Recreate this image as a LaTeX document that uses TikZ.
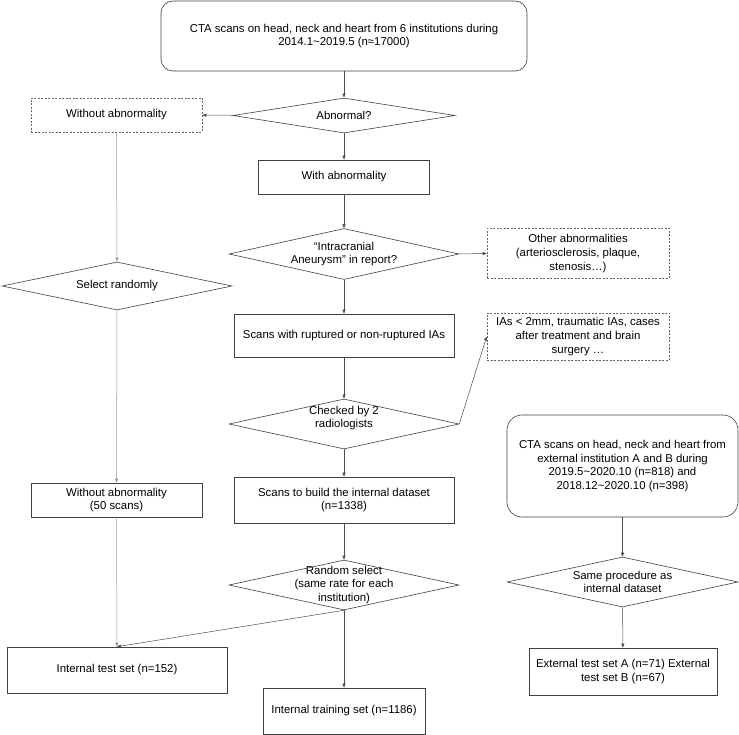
\documentclass[tikz,border=0pt]{standalone}
\usepackage{fontspec}
\setmainfont{Liberation Sans}
\usetikzlibrary{arrows.meta}
\usetikzlibrary{shapes.geometric}

\begin{document}
\begin{tikzpicture}[x=1pt,y=-1pt,
  font=\fontsize{11.4}{13.8}\selectfont,
  proc/.style={rectangle,draw=black!75,line width=0.6pt,align=center,inner sep=2pt},
  dproc/.style={proc,draw=black!60,dash pattern=on 2pt off 1.5pt},
  start/.style={proc,rounded corners=12pt},
  ask/.style={diamond,draw=black!75,line width=0.6pt,inner sep=0pt},
  txt/.style={align=center,inner sep=0pt},
  arr/.style={-{Triangle[length=4pt,width=3pt]},draw=black!70,line width=0.5pt}]
  % Constants
  \pgfmathsetmacro\xl{117}
  \pgfmathsetmacro\xm{344}
  \pgfmathsetmacro\xr{622.5}
  % Boundary
  \path[use as bounding box] (0,0) rectangle (739,735);
  % Internal dataset
  \node[start,minimum width=366pt,minimum height=70pt] (src) at (\xm,36) {CTA scans on head, neck and heart from 6 institutions during\\2014.1\textasciitilde 2019.5 (n≈17000)};
  \node[ask,minimum width=222pt,minimum height=35pt,label={[txt]center:Abnormal?}] (abn) at (\xm,115.5) {};
  \node[dproc,minimum width=171pt,minimum height=34pt] (noabn) at (116.5,115) {Without abnormality};
  \node[proc,minimum width=171pt,minimum height=34pt] (withabn) at (\xm,177) {With abnormality};
  \node[ask,minimum width=230pt,minimum height=51pt,label={[txt]center:{“Intracranial\\Aneurysm” in report?}}] (report) at (\xm,254) {};
  \node[dproc,minimum width=182pt,minimum height=50pt] (other) at (578,253.5) {Other abnormalities\\(arteriosclerosis, plaque,\\stenosis…)};
  \node[proc,minimum width=220pt,minimum height=43pt] (ias) at (\xm,335.5) {Scans with ruptured or non-ruptured IAs};
  \node[dproc,minimum width=182pt,minimum height=47pt] (excl) at (578,336.5) {IAs < 2mm, traumatic IAs, cases\\after treatment and brain\\surgery …};
  \node[ask,minimum width=230pt,minimum height=50pt,label={[txt,yshift=6pt]center:{Checked by 2\\radiologists}}] (check) at (\xm,424) {};
  \node[proc,minimum width=220pt,minimum height=46pt] (internal) at (\xm,500) {Scans to build the internal dataset\\(n=1338)};
  \node[ask,minimum width=230pt,minimum height=50pt,label={[txt]center:{Random select\\(same rate for each\\institution)}}] (split) at (\xm,585) {};
  \node[proc,minimum width=162pt,minimum height=46pt] (train) at (\xm,711) {Internal training set (n=1186)};
  % Normal scans
  \node[ask,minimum width=230pt,minimum height=48pt,label={[txt]center:Select randomly}] (pick) at (\xl,286) {};
  \node[proc,minimum width=171pt,minimum height=34pt] (normal) at (116.5,500) {Without abnormality\\(50 scans)};
  \node[proc,minimum width=220pt,minimum height=46pt] (test) at (\xl,670) {Internal test set (n=152)};
  % External dataset
  \node[start,rounded corners=15pt,minimum width=231pt,minimum height=102pt] (ext) at (\xr,466) {CTA scans on head, neck and heart from\\external institution A and B during\\2019.5\textasciitilde 2020.10 (n=818) and\\2018.12\textasciitilde 2020.10 (n=398)};
  \node[ask,minimum width=231pt,minimum height=50pt,label={[txt]center:{Same procedure as\\internal dataset}}] (same) at (\xr,582) {};
  \node[proc,minimum width=188pt,minimum height=47pt] (exttest) at (623,671.5) {External test set A (n=71) External\\test set B (n=67)};
  % Arrows
  \draw[arr] (src) -- (abn);
  \draw[arr] (abn) -- (noabn);
  \draw[arr] (abn) -- (withabn);
  \draw[arr] (withabn) -- (report);
  \draw[arr] (report.east) -- (other.west);
  \draw[arr] (report) -- (ias);
  \draw[arr] (ias) -- (check);
  \draw[arr] (check.east) -- (excl.west);
  \draw[arr] (check) -- (internal);
  \draw[arr] (internal) -- (split);
  \draw[arr] (split.south) -- (train.north);
  \draw[arr] (split.south) -- (test.north);
  \draw[arr,draw=gray!80] (noabn) -- (pick);
  \draw[arr,draw=gray!80] (pick) -- (normal);
  \draw[arr,draw=gray!80] (normal) -- (test);
  \draw[arr] (ext) -- (same);
  \draw[arr] (same) -- (exttest);
\end{tikzpicture}
\end{document}
